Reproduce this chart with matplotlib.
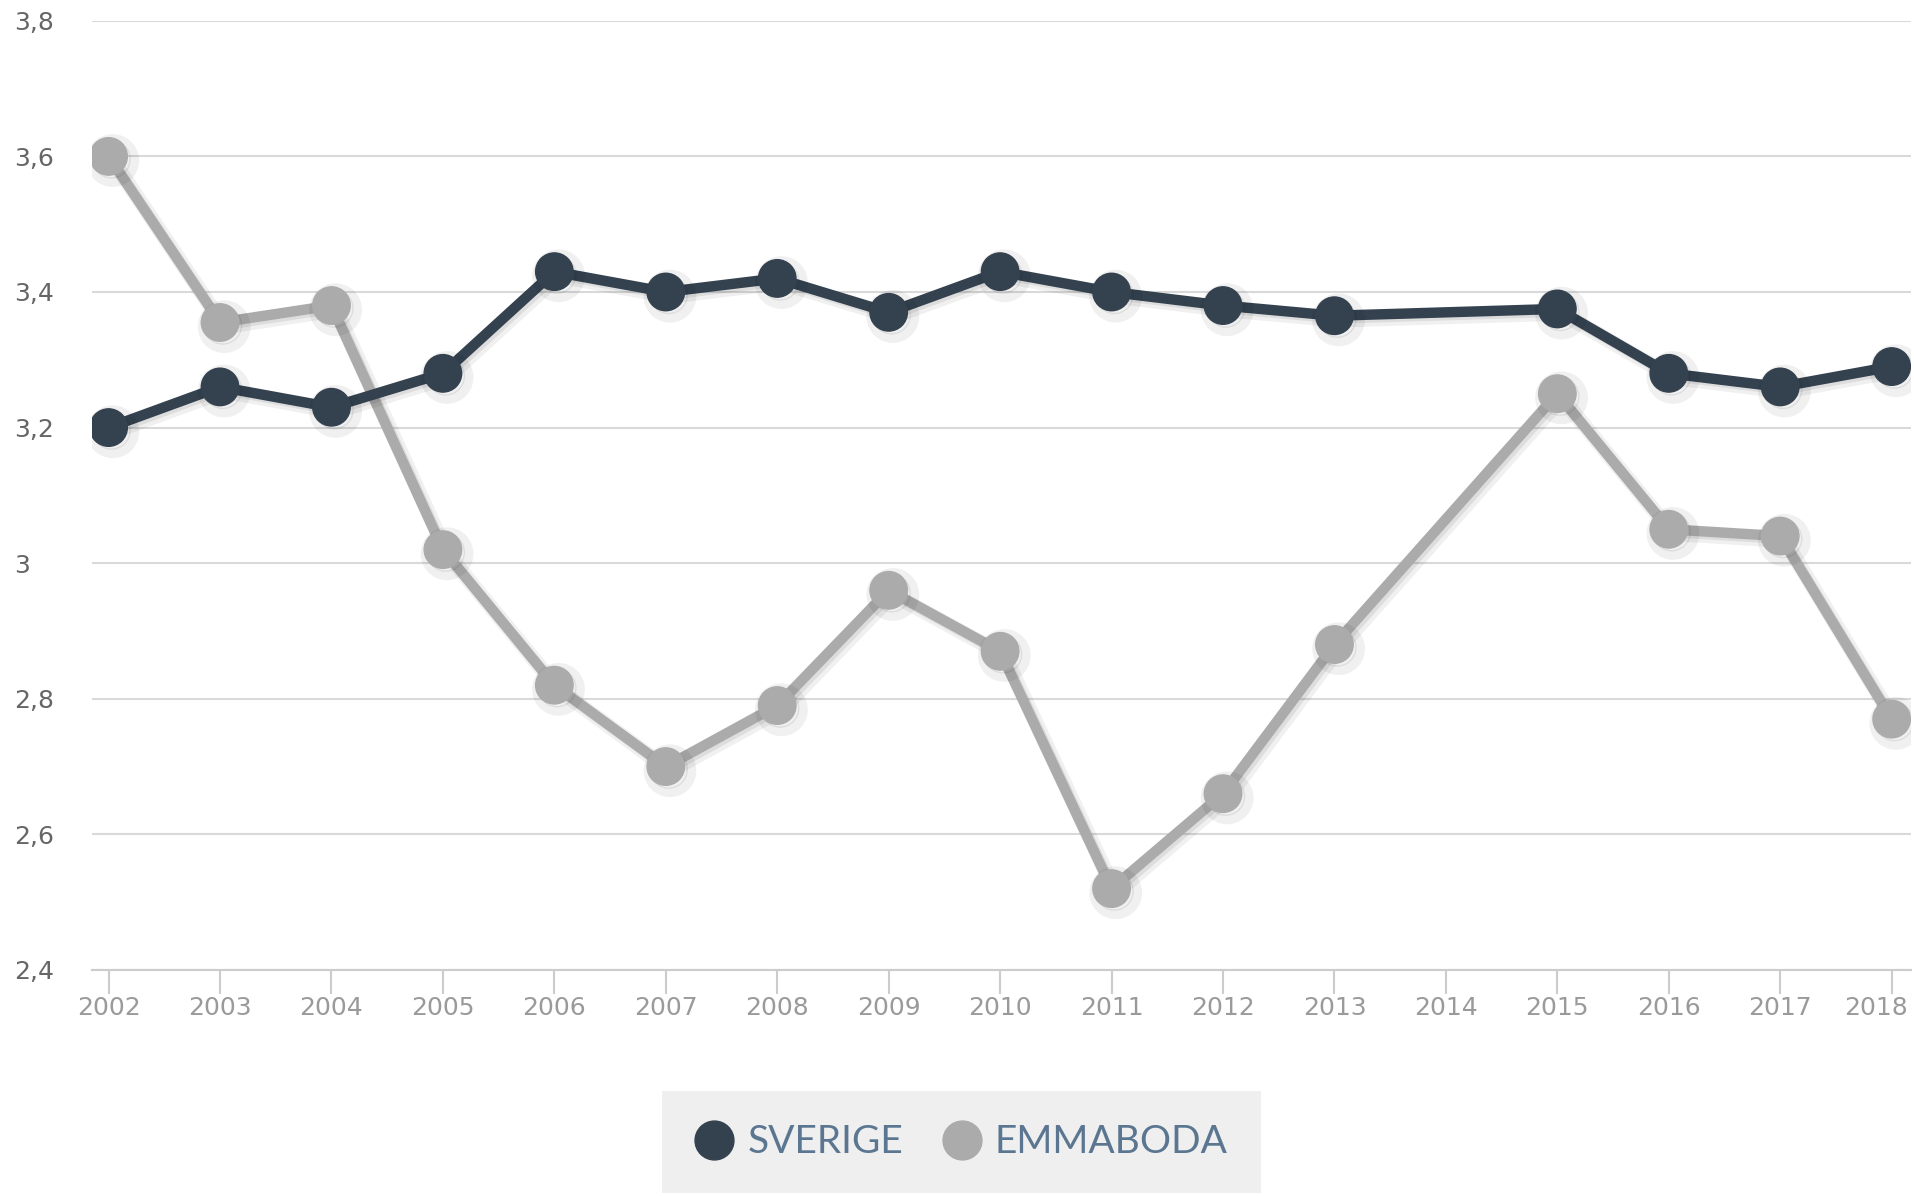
import matplotlib
matplotlib.use("Agg")
import matplotlib.pyplot as plt
import matplotlib.patheffects as pe
import matplotlib.transforms as mtransforms
from matplotlib.lines import Line2D

years = [2002, 2003, 2004, 2005, 2006, 2007, 2008, 2009, 2010, 2011, 2012, 2013, 2015, 2016, 2017, 2018]
sverige = [3.20, 3.26, 3.23, 3.28, 3.43, 3.40, 3.42, 3.37, 3.43, 3.40, 3.38, 3.365, 3.375, 3.28, 3.26, 3.29]
emmaboda = [3.60, 3.355, 3.38, 3.02, 2.82, 2.70, 2.79, 2.96, 2.87, 2.52, 2.66, 2.88, 3.25, 3.05, 3.04, 2.77]
xticks = list(range(2002, 2019))
yticks = [2.4, 2.6, 2.8, 3.0, 3.2, 3.4, 3.6, 3.8]
ytick_labels = ["2,4", "2,6", "2,8", "3", "3,2", "3,4", "3,6", "3,8"]
series_names = ["SVERIGE", "EMMABODA"]
colors = ["#34414f", "#ababab"]

fig = plt.figure(figsize=(19.15, 11.96), dpi=100)
ax = fig.add_axes([0.0478, 0.189, 0.9502, 0.7936])

shadow = [pe.SimpleLineShadow(offset=(3, -3), alpha=0.06, shadow_color="black", linewidth=11),
          pe.SimpleLineShadow(offset=(2, -2), alpha=0.08, shadow_color="black"),
          pe.Normal()]
for vals, col, name in zip([emmaboda, sverige], [colors[1], colors[0]], [series_names[1], series_names[0]]):
    ax.plot(years, vals, color=col, lw=7.5, marker="o", ms=27, mec=col, mfc=col,
            solid_joinstyle="round", path_effects=shadow, label=name, zorder=3)

ax.set_xlim(2002 - 0.153, 2018 + 0.175)
ax.set_ylim(2.4, 3.8)
ax.set_yticks(yticks)
ax.set_yticklabels(ytick_labels)
ax.set_xticks(xticks)
ax.set_xticklabels([str(x) for x in xticks])
ax.grid(axis="y", color="#d9d9d9", lw=1.5)
ax.set_axisbelow(True)
for s in ["top", "right", "left"]:
    ax.spines[s].set_visible(False)
ax.spines["bottom"].set_color("#cccccc")
ax.spines["bottom"].set_linewidth(1.5)
ax.tick_params(axis="y", length=0, labelsize=18, labelcolor="#666666", pad=0)
for lbl in ax.get_yticklabels():
    lbl.set_horizontalalignment("left")
    lbl.set_x(-0.0427)
ax.tick_params(axis="x", length=17, width=1.5, color="#cccccc", labelsize=18, labelcolor="#9a9a9a", pad=2)
last = ax.get_xticklabels()[-1]
last.set_transform(last.get_transform() + mtransforms.ScaledTranslation(-16 / 100, 0, fig.dpi_scale_trans))

handles = [Line2D([], [], ls="none", marker="o", ms=28, mfc=c, mec=c) for c in colors]
leg = fig.legend(handles, series_names, loc="center", bbox_to_anchor=(0.502, 0.045),
                 ncol=2, frameon=True, fancybox=False, facecolor="#ececec", edgecolor="#ececec",
                 fontsize=28, handlelength=1.0, handletextpad=0.35, columnspacing=1.0,
                 borderpad=0.85, borderaxespad=0)
leg.get_frame().set_linewidth(0)
for t in leg.get_texts():
    t.set_color("#5b7690")
    t.set_fontfamily("Lato")

fig.savefig("out.png", dpi=100)
